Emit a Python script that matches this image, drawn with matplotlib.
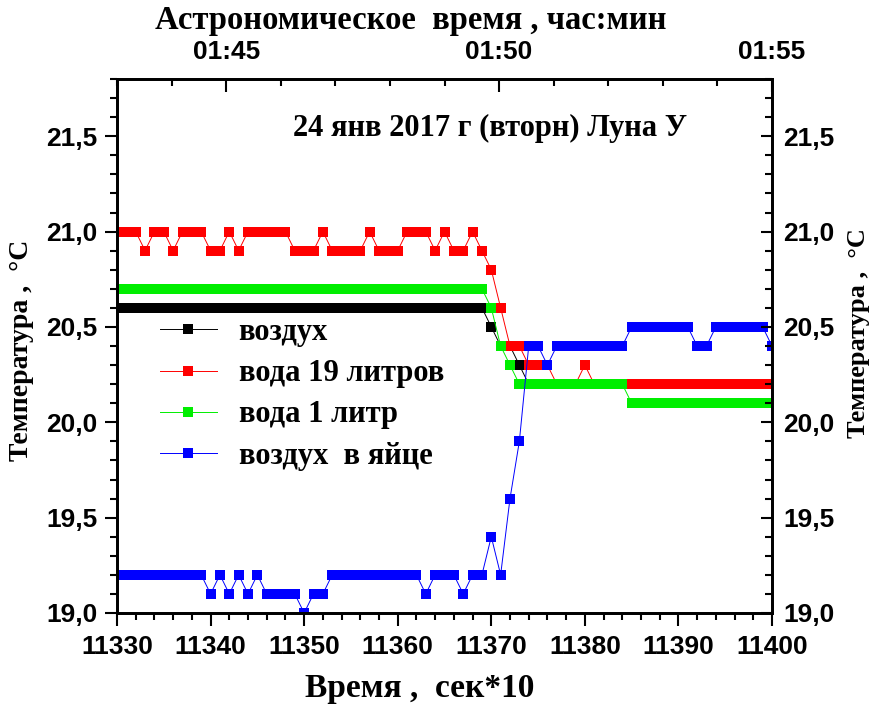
import matplotlib
matplotlib.use("Agg")
import matplotlib.pyplot as plt
from matplotlib.ticker import MultipleLocator, FixedLocator
from matplotlib.font_manager import FontProperties
import numpy as np

# Time axis (sek*10), one reading every 10 s
x = np.arange(11330, 11401)

air = [20.6] * 40 + [20.5, 20.4, 20.4, 20.3] + [20.2] * 27

water19 = ([21.0, 21.0, 21.0, 20.9, 21.0, 21.0, 20.9, 21.0, 21.0, 21.0,
            20.9, 20.9, 21.0, 20.9, 21.0, 21.0, 21.0, 21.0, 21.0, 20.9,
            20.9, 20.9, 21.0, 20.9, 20.9, 20.9, 20.9, 21.0, 20.9, 20.9,
            20.9, 21.0, 21.0, 21.0, 20.9, 21.0, 20.9, 20.9, 21.0, 20.9,
            20.8, 20.6, 20.4, 20.4, 20.3, 20.3, 20.3, 20.2, 20.2, 20.2,
            20.3] + [20.2] * 20)

water1 = [20.7] * 40 + [20.6, 20.4, 20.3] + [20.2] * 12 + [20.1] * 16

egg_air = ([19.2] * 10 +
           [19.1, 19.2, 19.1, 19.2, 19.1, 19.2, 19.1, 19.1, 19.1, 19.1,
            19.0, 19.1, 19.1] +
           [19.2] * 10 +
           [19.1, 19.2, 19.2, 19.2, 19.1, 19.2, 19.2,
            19.4, 19.2, 19.6, 19.9, 20.4, 20.4, 20.3] +
           [20.4] * 8 + [20.5] * 7 + [20.4, 20.4] + [20.5] * 6 + [20.4])

labels = ["воздух", "вода 19 литров", "вода 1 литр", "воздух  в яйце"]
colors = ["#000000", "#ff0000", "#00ee00", "#0000ff"]

y_ticks = [19.0, 19.5, 20.0, 20.5, 21.0, 21.5]
y_ticklabels = ["19,0", "19,5", "20,0", "20,5", "21,0", "21,5"]
top_ticks = [2, 7, 12]
top_labels = ["01:45", "01:50", "01:55"]

plt.rcParams["font.family"] = "Liberation Sans"
plt.rcParams["font.weight"] = "bold"

W, H = 869, 704
fig = plt.figure(figsize=(W / 100, H / 100), dpi=100)
fig.patch.set_facecolor("white")
rect = [117 / W, 1 - 613 / H, 655 / W, 534 / H]
ax = fig.add_axes(rect)

handles = []
for ys, lab, c in zip([air, water19, water1, egg_air], labels, colors):
    h, = ax.plot(x, ys, color=c, lw=0.7, marker="s", ms=6.8, mec=c, mfc=c,
                 mew=0, label=lab)
    handles.append(h)

ax.set_xlim(11330, 11400)
ax.set_ylim(19.0, 21.8)
ax.xaxis.set_major_locator(MultipleLocator(10))
ax.xaxis.set_minor_locator(MultipleLocator(2))
ax.yaxis.set_major_locator(FixedLocator(y_ticks))
ax.yaxis.set_minor_locator(MultipleLocator(0.1))
ax.set_yticklabels(y_ticklabels)

ax.tick_params(axis="x", which="major", direction="out", length=9, width=1.5,
               pad=7, labelsize=19)
ax.tick_params(axis="x", which="minor", direction="out", length=5, width=1.5)
ax.tick_params(axis="y", which="major", direction="out", length=9, width=1.5,
               pad=5, labelsize=19)
ax.tick_params(axis="y", which="minor", direction="out", length=5, width=1.5)

# right-hand temperature scale, ticks pointing inward
axr = ax.twinx()
axr.set_ylim(ax.get_ylim())
axr.yaxis.set_major_locator(FixedLocator(y_ticks))
axr.yaxis.set_minor_locator(MultipleLocator(0.1))
axr.set_yticklabels(y_ticklabels)
axr.tick_params(axis="y", which="major", direction="in", length=8, width=1.5,
                pad=8, labelsize=19)
axr.tick_params(axis="y", which="minor", direction="in", length=5, width=1.5)

# astronomical time axis on top
axt = ax.twiny()
axt.set_xlim(0, 12)
axt.xaxis.set_major_locator(FixedLocator(top_ticks))
axt.xaxis.set_minor_locator(MultipleLocator(1))
axt.set_xticklabels(top_labels)
axt.tick_params(axis="x", which="major", direction="in", length=9, width=1.5,
                pad=11, labelsize=19)
axt.tick_params(axis="x", which="minor", direction="in", length=5, width=1.5)

for a in (ax, axr, axt):
    for side in ["left", "right", "top", "bottom"]:
        a.spines[side].set_linewidth(1.8)

serif = dict(family="Liberation Serif", weight="bold")
fig.text(411 / W, 1 - 20 / H, "Астрономическое  время , час:мин",
         ha="center", va="center", fontsize=23.5, **serif)
fig.text(420 / W, 1 - 688 / H, "Время ,  сек*10",
         ha="center", va="center", fontsize=24, **serif)
fig.text(22 / W, 1 - 350 / H, "Температура ,  °C", rotation=90,
         ha="center", va="center", fontsize=20, **serif)
fig.text(859 / W, 1 - 333 / H, "Температура ,  °C", rotation=90,
         ha="center", va="center", fontsize=19, **serif)
fig.text(490 / W, 1 - 128 / H, "24 янв 2017 г (вторн) Луна У",
         ha="center", va="center", fontsize=22, **serif)

leg = axt.legend(handles=handles, loc="upper left",
                 bbox_to_anchor=(160 / W, 1 - 318 / H), bbox_transform=fig.transFigure,
                 frameon=False, handlelength=1.85, handletextpad=0.72,
                 labelspacing=0.4, markerscale=1.15, borderaxespad=0,
                 borderpad=0, prop=FontProperties(size=22, **serif))

fig.savefig("out.png", dpi=100, facecolor="white")
